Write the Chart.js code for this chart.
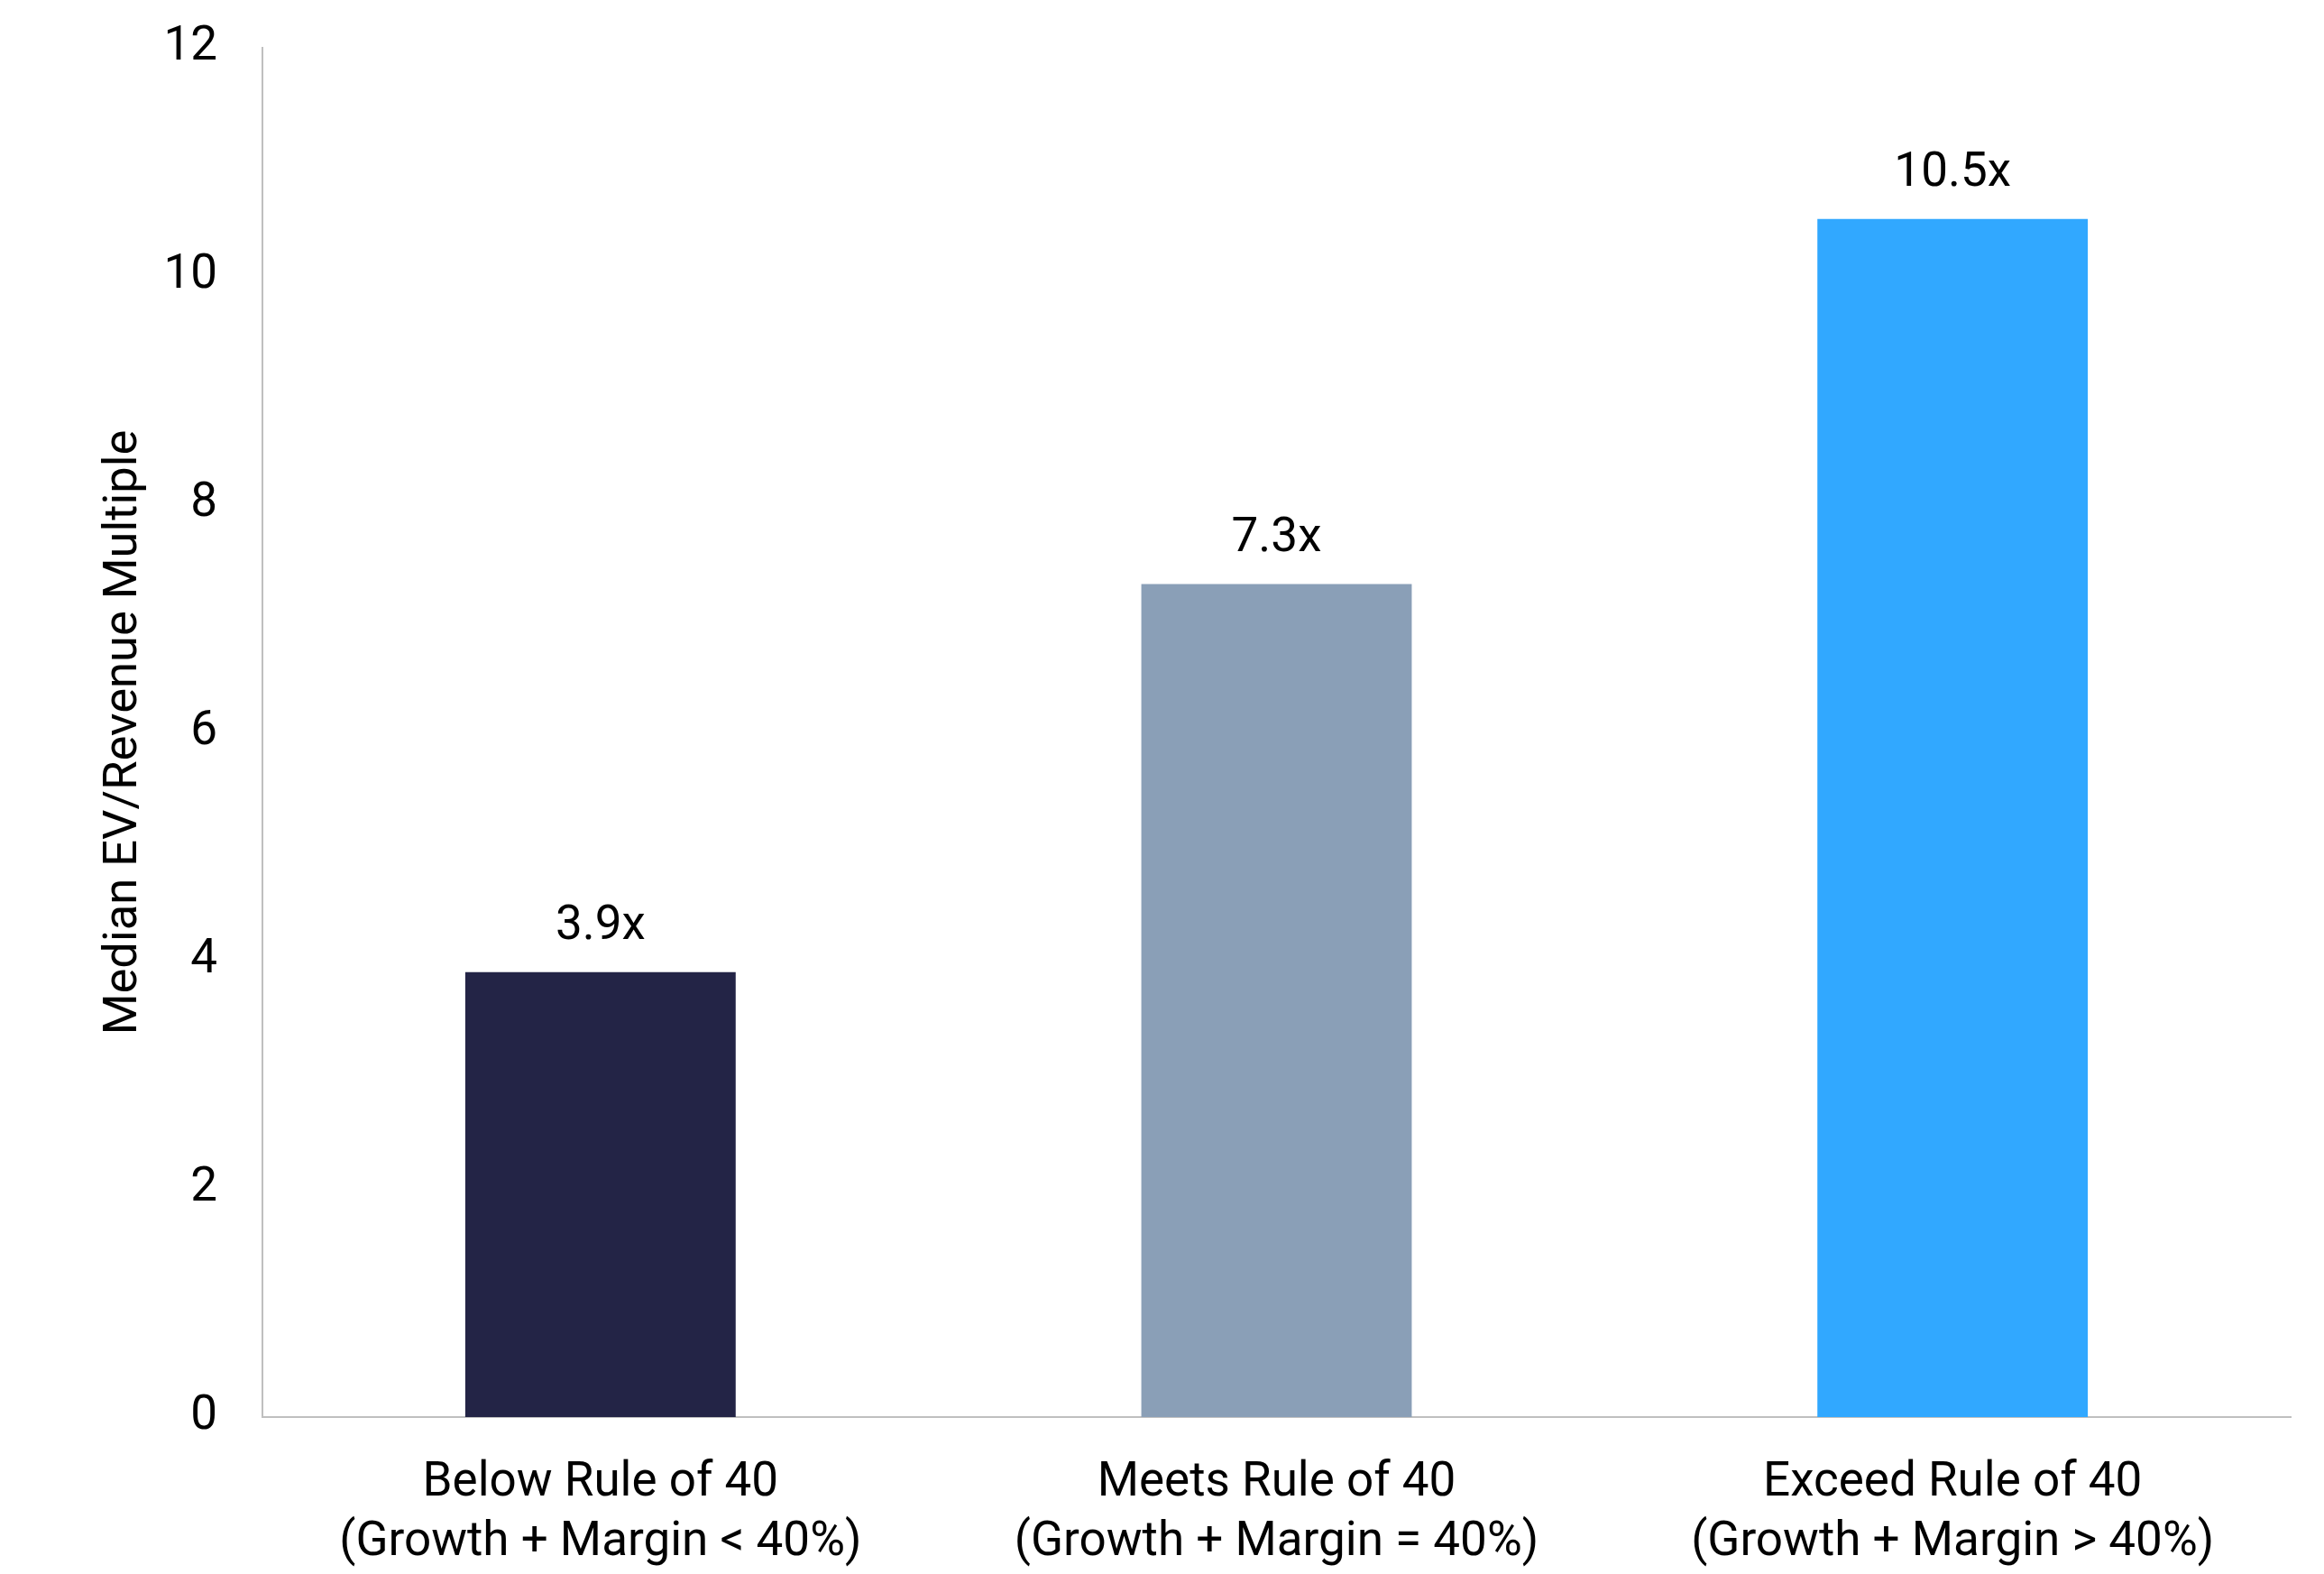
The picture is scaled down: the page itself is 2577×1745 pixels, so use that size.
<!DOCTYPE html>
<html>
<head>
<meta charset="utf-8">
<script src="https://cdn.jsdelivr.net/npm/chart.js@4.4.1/dist/chart.umd.min.js"></script>
<style>
  html, body { margin: 0; padding: 0; background: #ffffff; overflow: hidden; }
  #wrap { width: 2577px; height: 1745px; }
  canvas { display: block; }
</style>
</head>
<body>
<div id="wrap"><canvas id="ruleOf40Chart" width="2577" height="1745"></canvas></div>
<script>
// Datos del gráfico
const categories = [
    ['Below Rule of 40', '(Growth + Margin < 40%)'],
    ['Meets Rule of 40', '(Growth + Margin = 40%)'],
    ['Exceed Rule of 40', '(Growth + Margin > 40%)']
];
const multiples = [3.9, 7.3, 10.5];
const yTicks = [0, 2, 4, 6, 8, 10, 12];

const barColors = ['#232446', '#8A9FB7', '#31A8FF'];
const fontFamily = 'Roboto, "Liberation Sans", sans-serif';

// Etiquetas de valor sobre cada barra
const valueLabels = {
    id: 'valueLabels',
    afterDatasetsDraw(chart) {
        const ctx = chart.ctx;
        const meta = chart.getDatasetMeta(0);
        ctx.save();
        ctx.font = '53px ' + fontFamily;
        ctx.fillStyle = '#000000';
        ctx.textAlign = 'center';
        ctx.textBaseline = 'middle';
        meta.data.forEach((bar, i) => {
            ctx.fillText(multiples[i].toFixed(1) + 'x', bar.x, bar.y - 50);
        });
        ctx.restore();
    }
};

new Chart(document.getElementById('ruleOf40Chart'), {
    type: 'bar',
    data: {
        labels: categories,
        datasets: [{
            data: multiples,
            backgroundColor: barColors,
            borderWidth: 0,
            barPercentage: 0.4,
            categoryPercentage: 1.0
        }]
    },
    options: {
        responsive: false,
        animation: false,
        devicePixelRatio: 1,
        layout: {
            padding: { top: 53, right: 37, left: 0, bottom: 0 }
        },
        plugins: {
            legend: { display: false },
            tooltip: { enabled: false }
        },
        scales: {
            x: {
                grid: { display: false, drawTicks: false },
                border: { display: true, color: '#BFBFBF', width: 2 },
                ticks: {
                    color: '#000000',
                    padding: 40,
                    maxRotation: 0,
                    autoSkip: false,
                    font: { family: fontFamily, size: 53, lineHeight: 1.26 }
                },
                afterFit: (scale) => { scale.height = 174; }
            },
            y: {
                min: 0,
                max: 12,
                afterBuildTicks: (scale) => {
                    scale.ticks = yTicks.map(v => ({ value: v }));
                },
                grid: { display: false, drawTicks: false },
                border: { display: true, color: '#BFBFBF', width: 2 },
                ticks: {
                    color: '#000000',
                    padding: 50,
                    font: { family: fontFamily, size: 53 }
                },
                title: {
                    display: true,
                    text: 'Median EV/Revenue Multiple',
                    color: '#000000',
                    padding: { top: 106, bottom: 0 },
                    font: { family: fontFamily, size: 52.5 }
                },
                afterFit: (scale) => {
                    scale.width = 291;
                    // el área del gráfico la fija layout.padding
                    scale.paddingTop = 0;
                    scale.paddingBottom = 0;
                }
            }
        }
    },
    plugins: [valueLabels]
});
</script>
</body>
</html>
